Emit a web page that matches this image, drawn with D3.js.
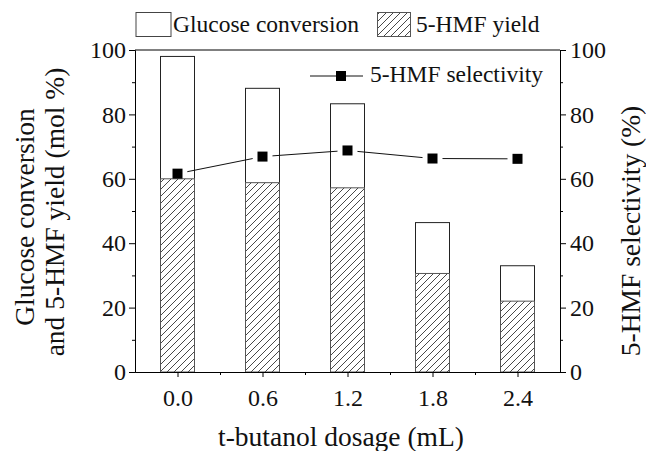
<html>
<head>
<meta charset="utf-8">
<title>t-butanol dosage</title>
<style>
  body { margin: 0; background: #fff; }
  text { font-family: "Liberation Serif", "Times New Roman", serif; fill: #111; }
</style>
</head>
<body>
<script src="https://cdnjs.cloudflare.com/ajax/libs/d3/7.8.5/d3.min.js"></script>
<script>
    var w = 646, h = 451;

    // values
    var dosage = [0.0, 0.6, 1.2, 1.8, 2.4];
    var dosageLabels = ['0.0', '0.6', '1.2', '1.8', '2.4'];
    var conversion = [98.0, 88.1, 83.3, 46.4, 33.0];
    var hmfYield = [60.0, 58.8, 57.2, 30.6, 22.0];
    var selectivity = [61.6, 66.9, 68.8, 66.3, 66.2];
    var yTicks = [0, 20, 40, 60, 80, 100];
    var yMinor = [10, 30, 50, 70, 90];
    var xMinor = [0.3, 0.9, 1.5, 2.1];

    var plotL = 135, plotR = 560, plotT = 50, plotB = 372;
    var barW = 34;

    var x = d3.scaleLinear().domain([-0.3, 2.7]).range([plotL, plotR]);
    var y = d3.scaleLinear().domain([0, 100]).range([plotB, plotT]);
    var y2 = d3.scaleLinear().domain([0, 100]).range([plotB, plotT]);

    var svg = d3.select('body').append('svg')
        .attr('width', w)
        .attr('height', h);

    // hatch pattern for the yield bars
    var pat = svg.append('defs').append('pattern')
        .attr('id', 'hatch')
        .attr('patternUnits', 'userSpaceOnUse')
        .attr('width', 7)
        .attr('height', 7);
    pat.append('rect').attr('width', 7).attr('height', 7).attr('fill', '#fff');
    pat.append('path')
        .attr('d', 'M-1,8 L8,-1 M-1,1 L1,-1 M6,8 L8,6')
        .attr('stroke', '#333')
        .attr('stroke-width', 0.9);

    // conversion bars (white)
    svg.selectAll('rect.conv')
        .data(dosage)
        .enter()
        .append('rect')
        .attr('class', 'conv')
        .attr('x', function (d) { return x(d) - barW / 2; })
        .attr('y', function (d, i) { return y(conversion[i]); })
        .attr('width', barW)
        .attr('height', function (d, i) { return y(0) - y(conversion[i]); })
        .attr('fill', '#fff')
        .attr('stroke', '#222')
        .attr('stroke-width', 1);

    // yield bars (hatched)
    svg.selectAll('rect.yld')
        .data(dosage)
        .enter()
        .append('rect')
        .attr('class', 'yld')
        .attr('x', function (d) { return x(d) - barW / 2; })
        .attr('y', function (d, i) { return y(hmfYield[i]); })
        .attr('width', barW)
        .attr('height', function (d, i) { return y(0) - y(hmfYield[i]); })
        .attr('fill', 'url(#hatch)')
        .attr('stroke', '#555')
        .attr('stroke-width', 1);

    // selectivity line, with a small gap around each marker
    var pts = dosage.map(function (d, i) { return [x(d), y2(selectivity[i])]; });
    var gap = 10;
    svg.selectAll('line.sel')
        .data(d3.pairs(pts))
        .enter()
        .append('line')
        .attr('class', 'sel')
        .each(function (p) {
            var dx = p[1][0] - p[0][0], dy = p[1][1] - p[0][1];
            var len = Math.sqrt(dx * dx + dy * dy);
            var ux = dx / len, uy = dy / len;
            d3.select(this)
                .attr('x1', p[0][0] + ux * gap).attr('y1', p[0][1] + uy * gap)
                .attr('x2', p[1][0] - ux * gap).attr('y2', p[1][1] - uy * gap);
        })
        .attr('stroke', '#111')
        .attr('stroke-width', 1);

    svg.selectAll('rect.mark')
        .data(pts)
        .enter()
        .append('rect')
        .attr('class', 'mark')
        .attr('x', function (p) { return p[0] - 5; })
        .attr('y', function (p) { return p[1] - 5; })
        .attr('width', 10)
        .attr('height', 10)
        .attr('fill', '#000');

    // axes
    svg.append('g').attr('transform', 'translate(0,' + plotB + ')')
        .call(d3.axisBottom(x).tickValues(dosage).tickFormat(function (d, i) { return dosageLabels[i]; })
            .tickSize(5).tickPadding(12).tickSizeOuter(0));
    svg.append('g').attr('transform', 'translate(0,' + plotB + ')')
        .call(d3.axisBottom(x).tickValues(xMinor).tickFormat('').tickSize(3).tickSizeOuter(0));

    svg.append('g').attr('transform', 'translate(' + plotL + ',0)')
        .call(d3.axisLeft(y).tickValues(yTicks).tickSize(6).tickPadding(3).tickSizeOuter(0));
    svg.append('g').attr('transform', 'translate(' + plotL + ',0)')
        .call(d3.axisLeft(y).tickValues(yMinor).tickFormat('').tickSize(3).tickSizeOuter(0));

    svg.append('g').attr('transform', 'translate(' + plotR + ',0)')
        .call(d3.axisRight(y2).tickValues(yTicks).tickSize(6).tickPadding(4).tickSizeOuter(0));
    svg.append('g').attr('transform', 'translate(' + plotR + ',0)')
        .call(d3.axisRight(y2).tickValues(yMinor).tickFormat('').tickSize(3).tickSizeOuter(0));

    // top border
    svg.append('line')
        .attr('x1', plotL).attr('x2', plotR)
        .attr('y1', plotT).attr('y2', plotT)
        .attr('stroke', '#000');

    svg.selectAll('.domain, .tick line').attr('stroke', '#000');
    svg.selectAll('.tick text')
        .style('font-family', '"Liberation Serif", "Times New Roman", serif')
        .style('font-size', '24px')
        .attr('fill', '#111');

    // axis titles
    svg.append('text')
        .attr('x', 341).attr('y', 446)
        .attr('text-anchor', 'middle')
        .style('font-size', '27.5px')
        .text('t-butanol dosage (mL)');

    svg.append('text')
        .attr('transform', 'translate(34,217) rotate(-90)')
        .attr('text-anchor', 'middle')
        .style('font-size', '27.5px')
        .text('Glucose conversion');
    svg.append('text')
        .attr('transform', 'translate(64,212) rotate(-90)')
        .attr('text-anchor', 'middle')
        .style('font-size', '27.5px')
        .text('and 5-HMF yield (mol %)');

    svg.append('text')
        .attr('transform', 'translate(640,231) rotate(-90)')
        .attr('text-anchor', 'middle')
        .style('font-size', '27.5px')
        .text('5-HMF selectivity (%)');

    // legend above plot
    svg.append('rect')
        .attr('x', 136).attr('y', 12.5).attr('width', 35).attr('height', 24)
        .attr('fill', '#fff').attr('stroke', '#444');
    svg.append('text')
        .attr('x', 173).attr('y', 32)
        .style('font-size', '23.5px')
        .text('Glucose conversion');
    svg.append('rect')
        .attr('x', 377.5).attr('y', 12.5).attr('width', 33).attr('height', 24)
        .attr('fill', 'url(#hatch)').attr('stroke', '#555');
    svg.append('text')
        .attr('x', 416).attr('y', 32)
        .style('font-size', '23.5px')
        .text('5-HMF yield');

    // legend inside plot
    svg.append('line')
        .attr('x1', 310).attr('x2', 363).attr('y1', 76).attr('y2', 76)
        .attr('stroke', '#111');
    svg.append('rect')
        .attr('x', 336).attr('y', 71).attr('width', 10).attr('height', 10)
        .attr('fill', '#000');
    svg.append('text')
        .attr('x', 370).attr('y', 82)
        .style('font-size', '23.5px')
        .text('5-HMF selectivity');
</script>
</body>
</html>
